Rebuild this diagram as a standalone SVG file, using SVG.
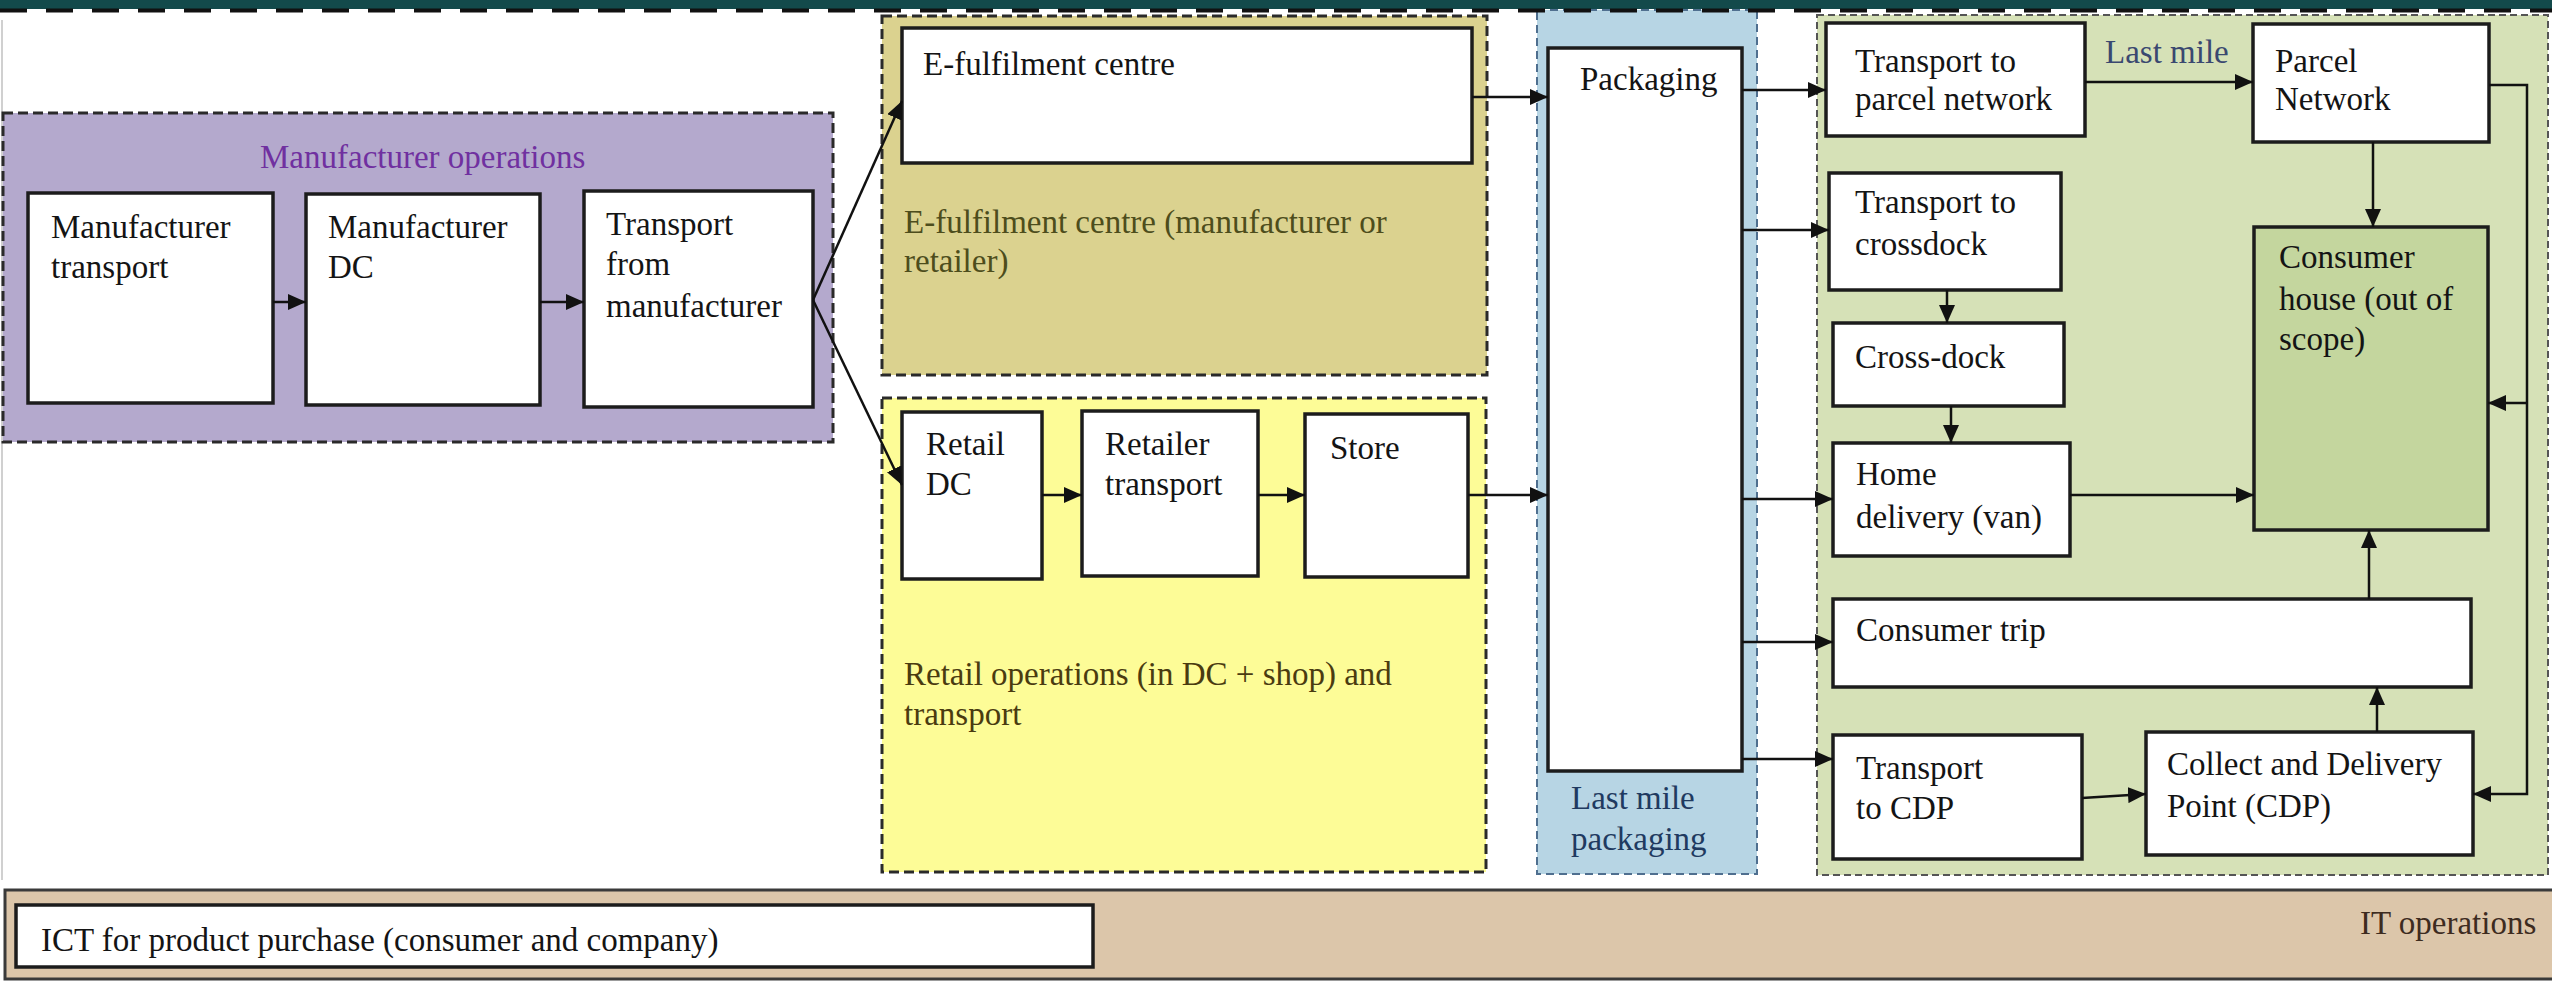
<svg xmlns="http://www.w3.org/2000/svg" width="2552" height="981" viewBox="0 0 2552 981">
<style>
text{font-family:"Liberation Serif","Times New Roman",serif;font-size:33px;fill:#141414}
.box{fill:#fff;stroke:#1c1c1c;stroke-width:3.5}
.grp{stroke:#2a2a2a;stroke-width:3;stroke-dasharray:10 5}
.con{fill:none;stroke:#111;stroke-width:2.5}
</style>
<defs>
<marker id="ah" viewBox="0 0 18 16" refX="18" refY="8" markerWidth="18" markerHeight="16" markerUnits="userSpaceOnUse" orient="auto">
<path d="M0,0 L18,8 L0,16 Z" fill="#111"/>
</marker>
</defs>
<rect x="0" y="0" width="2552" height="981" fill="#fff"/>
<line x1="2" y1="20" x2="2" y2="880" stroke="#d0d0d0" stroke-width="2"/>

<g id="group-manufacturer">
<rect class="grp" x="3" y="113" width="830" height="329" fill="#b4a9cd"/>
<text x="260" y="168" style="fill:#7030a0">Manufacturer operations</text>
</g>
<g id="group-efulfilment">
<rect class="grp" x="882" y="16" width="605" height="359" fill="#dbd28f"/>
<text x="904" y="233" style="fill:#4d4d1c">E-fulfilment centre (manufacturer or</text>
<text x="904" y="272" style="fill:#4d4d1c">retailer)</text>
</g>
<g id="group-retail">
<rect class="grp" x="882" y="398" width="604" height="474" fill="#fdfc97"/>
<text x="904" y="685" style="fill:#4a3b10">Retail operations (in DC + shop) and</text>
<text x="904" y="725" style="fill:#4a3b10">transport</text>
</g>
<g id="group-lastmile-packaging">
<rect x="1537" y="10" width="220" height="864" fill="#b7d5e4" stroke="#4f6f8f" stroke-width="2" stroke-dasharray="8 5"/>
<text x="1571" y="809" style="fill:#1f3a60">Last mile</text>
<text x="1571" y="850" style="fill:#1f3a60">packaging</text>
</g>
<g id="group-lastmile">
<rect x="1817" y="15" width="731" height="860" fill="#d6e1b7" stroke="#555" stroke-width="2" stroke-dasharray="7 4"/>
<text x="2105" y="63" style="fill:#3a4870">Last mile</text>
</g>
<g id="group-it">
<rect x="5" y="890" width="2560" height="89" fill="#dcc6aa" stroke="#3a3a3a" stroke-width="3"/>
<text x="2360" y="934" style="fill:#3d2b1f">IT operations</text>
</g>

<rect x="0" y="0" width="2552" height="9" fill="#134a4b"/>
<line x1="0" y1="10.5" x2="2552" y2="10.5" stroke="#111" stroke-width="4" stroke-dasharray="27 19"/>

<g id="node-manufacturer-transport">
<rect class="box" x="28" y="193" width="245" height="210"/>
<text x="51" y="238">Manufacturer</text>
<text x="51" y="278">transport</text>
</g>
<g id="node-manufacturer-dc">
<rect class="box" x="306" y="194" width="234" height="211"/>
<text x="328" y="238">Manufacturer</text>
<text x="328" y="278">DC</text>
</g>
<g id="node-transport-from-manufacturer">
<rect class="box" x="584" y="191" width="229" height="216"/>
<text x="606" y="235">Transport</text>
<text x="606" y="275">from</text>
<text x="606" y="317">manufacturer</text>
</g>
<g id="node-efulfilment-centre">
<rect class="box" x="902" y="28" width="570" height="135"/>
<text x="923" y="75">E-fulfilment centre</text>
</g>
<g id="node-retail-dc">
<rect class="box" x="902" y="412" width="140" height="167"/>
<text x="926" y="455">Retail</text>
<text x="926" y="495">DC</text>
</g>
<g id="node-retailer-transport">
<rect class="box" x="1082" y="411" width="176" height="165"/>
<text x="1105" y="455">Retailer</text>
<text x="1105" y="495">transport</text>
</g>
<g id="node-store">
<rect class="box" x="1305" y="414" width="163" height="163"/>
<text x="1330" y="459">Store</text>
</g>
<g id="node-packaging">
<rect class="box" x="1548" y="48" width="194" height="723"/>
<text x="1580" y="90">Packaging</text>
</g>
<g id="node-transport-to-parcel-network">
<rect class="box" x="1826" y="23" width="259" height="113"/>
<text x="1855" y="72">Transport  to</text>
<text x="1855" y="110">parcel  network</text>
</g>
<g id="node-parcel-network">
<rect class="box" x="2253" y="24" width="236" height="118"/>
<text x="2275" y="72">Parcel</text>
<text x="2275" y="110">Network</text>
</g>
<g id="node-transport-to-crossdock">
<rect class="box" x="1829" y="173" width="232" height="117"/>
<text x="1855" y="213">Transport to</text>
<text x="1855" y="255">crossdock</text>
</g>
<g id="node-cross-dock">
<rect class="box" x="1833" y="323" width="231" height="83"/>
<text x="1855" y="368">Cross-dock</text>
</g>
<g id="node-home-delivery">
<rect class="box" x="1833" y="443" width="237" height="113"/>
<text x="1856" y="485">Home</text>
<text x="1856" y="528">delivery (van)</text>
</g>
<g id="node-consumer-house">
<rect x="2254" y="227" width="234" height="303" fill="#c4d69e" stroke="#1c1c1c" stroke-width="3.5"/>
<text x="2279" y="268">Consumer</text>
<text x="2279" y="310">house (out of</text>
<text x="2279" y="350">scope)</text>
</g>
<g id="node-consumer-trip">
<rect class="box" x="1833" y="599" width="638" height="88"/>
<text x="1856" y="641">Consumer trip</text>
</g>
<g id="node-transport-to-cdp">
<rect class="box" x="1833" y="735" width="249" height="124"/>
<text x="1856" y="779">Transport</text>
<text x="1856" y="819">to CDP</text>
</g>
<g id="node-cdp">
<rect class="box" x="2146" y="732" width="327" height="123"/>
<text x="2167" y="775">Collect and Delivery</text>
<text x="2167" y="817">Point (CDP)</text>
</g>
<g id="node-ict">
<rect class="box" x="16" y="905" width="1077" height="62"/>
<text x="41" y="951">ICT for product purchase (consumer and company)</text>
</g>

<g id="connectors">
<line class="con" x1="273" y1="302" x2="306" y2="302" marker-end="url(#ah)"/>
<line class="con" x1="540" y1="302" x2="584" y2="302" marker-end="url(#ah)"/>
<line class="con" x1="813" y1="300" x2="902" y2="101" marker-end="url(#ah)"/>
<line class="con" x1="813" y1="300" x2="902" y2="485" marker-end="url(#ah)"/>
<line class="con" x1="1472" y1="97" x2="1548" y2="97" marker-end="url(#ah)"/>
<line class="con" x1="1042" y1="495" x2="1082" y2="495" marker-end="url(#ah)"/>
<line class="con" x1="1258" y1="495" x2="1305" y2="495" marker-end="url(#ah)"/>
<line class="con" x1="1468" y1="495" x2="1548" y2="495" marker-end="url(#ah)"/>
<line class="con" x1="1742" y1="90" x2="1826" y2="90" marker-end="url(#ah)"/>
<line class="con" x1="1742" y1="230" x2="1829" y2="230" marker-end="url(#ah)"/>
<line class="con" x1="1742" y1="499" x2="1833" y2="499" marker-end="url(#ah)"/>
<line class="con" x1="1742" y1="642" x2="1833" y2="642" marker-end="url(#ah)"/>
<line class="con" x1="1742" y1="759" x2="1833" y2="759" marker-end="url(#ah)"/>
<line class="con" x1="2085" y1="82" x2="2253" y2="82" marker-end="url(#ah)"/>
<line class="con" x1="2373" y1="142" x2="2373" y2="227" marker-end="url(#ah)"/>
<line class="con" x1="1947" y1="290" x2="1947" y2="323" marker-end="url(#ah)"/>
<line class="con" x1="1951" y1="406" x2="1951" y2="443" marker-end="url(#ah)"/>
<line class="con" x1="2070" y1="495" x2="2254" y2="495" marker-end="url(#ah)"/>
<line class="con" x1="2369" y1="599" x2="2369" y2="530" marker-end="url(#ah)"/>
<line class="con" x1="2082" y1="798" x2="2146" y2="794" marker-end="url(#ah)"/>
<line class="con" x1="2377" y1="732" x2="2377" y2="687" marker-end="url(#ah)"/>
<polyline class="con" points="2489,85 2527,85 2527,794 2473,794" marker-end="url(#ah)"/>
<line class="con" x1="2527" y1="403" x2="2488" y2="403" marker-end="url(#ah)"/>
</g>
</svg>
